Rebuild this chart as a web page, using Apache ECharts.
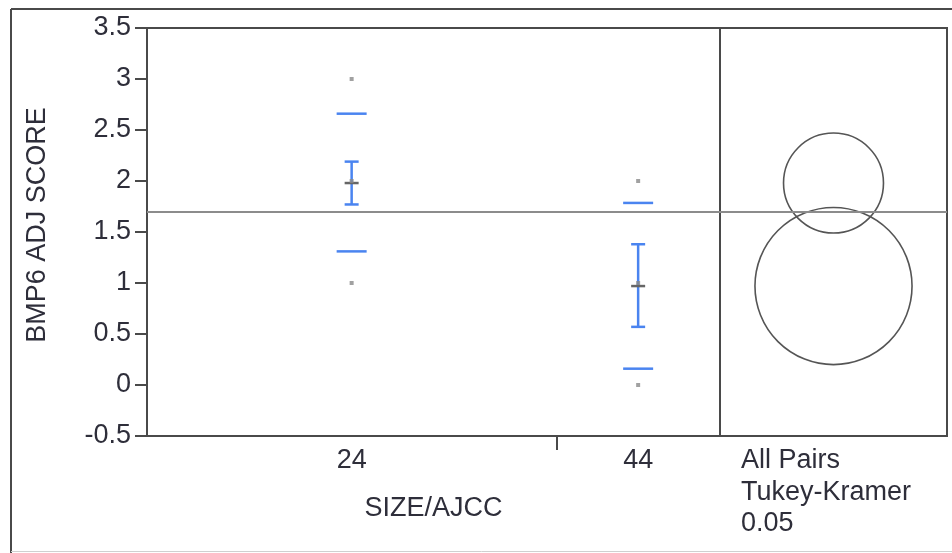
<!DOCTYPE html>
<html><head><meta charset="utf-8">
<script src="https://cdn.jsdelivr.net/npm/echarts@6/dist/echarts.min.js"></script>
<style>html,body{margin:0;padding:0;background:#fff}#c{width:952px;height:553px}</style>
</head><body><div id="c"></div>
<script>
// ---- data ----
const categories = ['24', '44'];
const groupN = [5, 2];              // relative group widths on the x axis
const groupMeans = [1.98, 0.97];
const ciLow = [1.77, 0.57];
const ciHigh = [2.19, 1.38];
const sdLow = [1.31, 0.16];
const sdHigh = [2.66, 1.785];
const pointGroup = [0, 0, 0, 1, 1, 1];
const pointValues = [3, 2, 1, 2, 1, 0];
const grandMean = 1.70;
const circleRadius = [0.49, 0.77];
const yMin = -0.5, yMax = 3.5, yStep = 0.5;
const compText = ['All Pairs', 'Tukey-Kramer', '0.05'];
const xTitle = 'SIZE/AJCC';
const yTitle = 'BMP6 ADJ SCORE';

// ---- derived ----
const starts = [], centers = [];
let acc = 0;
groupN.forEach(n => { starts.push(acc); centers.push(acc + n / 2); acc += n; });
const total = acc;
const boundaries = starts.slice(1);

const FONT = "'Liberation Sans', Arial, sans-serif";
const FS = 27;
const TXT = '#2e2e3a';
const BLUE = '#4a84f0';
const FRAME = '#4a4a4a';

const chart = echarts.init(document.getElementById('c'));
chart.setOption({
  animation: false,
  backgroundColor: '#fff',
  grid: [
    { left: 147, top: 28, width: 573, height: 408, show: true, borderColor: FRAME, borderWidth: 2, backgroundColor: 'transparent' },
    { left: 720, top: 28, width: 227, height: 408, show: true, borderColor: FRAME, borderWidth: 2, backgroundColor: 'transparent' }
  ],
  xAxis: [
    {
      gridIndex: 0, type: 'value', min: 0, max: total, position: 'bottom',
      axisLine: { show: false, onZero: false }, splitLine: { show: false },
      axisTick: { show: true, customValues: boundaries, length: 14, lineStyle: { color: FRAME, width: 2 } },
      axisLabel: {
        customValues: centers, margin: 11,
        formatter: v => { const i = centers.indexOf(v); return i >= 0 ? categories[i] : ''; },
        color: TXT, fontSize: FS, fontFamily: FONT
      },
      name: xTitle, nameLocation: 'middle', nameGap: 59,
      nameTextStyle: { color: TXT, fontSize: FS, fontFamily: FONT }
    },
    { gridIndex: 1, type: 'value', min: 0, max: 1, show: false }
  ],
  yAxis: [
    {
      gridIndex: 0, type: 'value', min: yMin, max: yMax, interval: yStep,
      axisLine: { show: false, onZero: false }, splitLine: { show: false },
      axisTick: { show: true, length: 12, lineStyle: { color: FRAME, width: 2 } },
      axisLabel: { margin: 16, color: TXT, fontSize: FS, fontFamily: FONT },
      name: yTitle, nameLocation: 'middle', nameGap: 96, nameRotate: 90,
      nameTextStyle: { color: TXT, fontSize: FS, fontFamily: FONT, padding: [0, 0, 0, 14] }
    },
    { gridIndex: 1, type: 'value', min: yMin, max: yMax, show: false }
  ],
  series: [
    {
      type: 'custom', xAxisIndex: 0, yAxisIndex: 0, z: 3,
      data: categories.map((c, i) => [centers[i], groupMeans[i], ciLow[i], ciHigh[i], sdLow[i], sdHigh[i]]),
      renderItem(params, api) {
        const x = api.value(0);
        const m = api.coord([x, api.value(1)]);
        const cl = api.coord([x, api.value(2)]);
        const ch = api.coord([x, api.value(3)]);
        const sl = api.coord([x, api.value(4)]);
        const sh = api.coord([x, api.value(5)]);
        const lw = 2.5;
        const hl = (p, half, color) => ({ type: 'line', shape: { x1: p[0] - half, y1: p[1], x2: p[0] + half, y2: p[1] }, style: { stroke: color, lineWidth: lw } });
        return { type: 'group', children: [
          hl(sh, 15, BLUE), hl(sl, 15, BLUE),
          { type: 'line', shape: { x1: cl[0], y1: cl[1], x2: ch[0], y2: ch[1] }, style: { stroke: BLUE, lineWidth: lw } },
          hl(ch, 7, BLUE), hl(cl, 7, BLUE),
          hl(m, 7, '#666')
        ] };
      },
      markLine: {
        silent: true, symbol: 'none', label: { show: false },
        lineStyle: { color: '#8c8c8c', width: 2, type: 'solid' },
        data: [{ yAxis: grandMean }]
      }
    },
    {
      type: 'scatter', xAxisIndex: 0, yAxisIndex: 0, z: 4,
      symbol: 'rect', symbolSize: 4,
      itemStyle: { color: '#8a8a8a' },
      data: pointValues.map((v, i) => [centers[pointGroup[i]], v])
    },
    {
      type: 'custom', xAxisIndex: 1, yAxisIndex: 1, z: 3,
      data: groupMeans.map((m, i) => [0.5, m, circleRadius[i]]),
      renderItem(params, api) {
        const c = api.coord([api.value(0), api.value(1)]);
        const r = api.size([0, api.value(2)])[1];
        return { type: 'circle', shape: { cx: c[0], cy: c[1], r: r }, style: { fill: 'none', stroke: '#555', lineWidth: 1.6 } };
      },
      markLine: {
        silent: true, symbol: 'none', label: { show: false },
        lineStyle: { color: '#8c8c8c', width: 2, type: 'solid' },
        data: [{ yAxis: grandMean }]
      }
    }
  ],
  graphic: [
    { type: 'line', shape: { x1: 11, y1: 9, x2: 952, y2: 9 }, style: { stroke: FRAME, lineWidth: 2 } },
    { type: 'line', shape: { x1: 11, y1: 9, x2: 11, y2: 553 }, style: { stroke: FRAME, lineWidth: 2 } },
    { type: 'line', shape: { x1: 11, y1: 551.5, x2: 952, y2: 551.5 }, style: { stroke: '#d0d0d0', lineWidth: 1 } },
    {
      type: 'text', left: 741, top: 445,
      style: { text: compText.join('\n'), fill: TXT, fontSize: FS, fontFamily: FONT, lineHeight: 31.5 }
    }
  ]
});
</script>
</body></html>
